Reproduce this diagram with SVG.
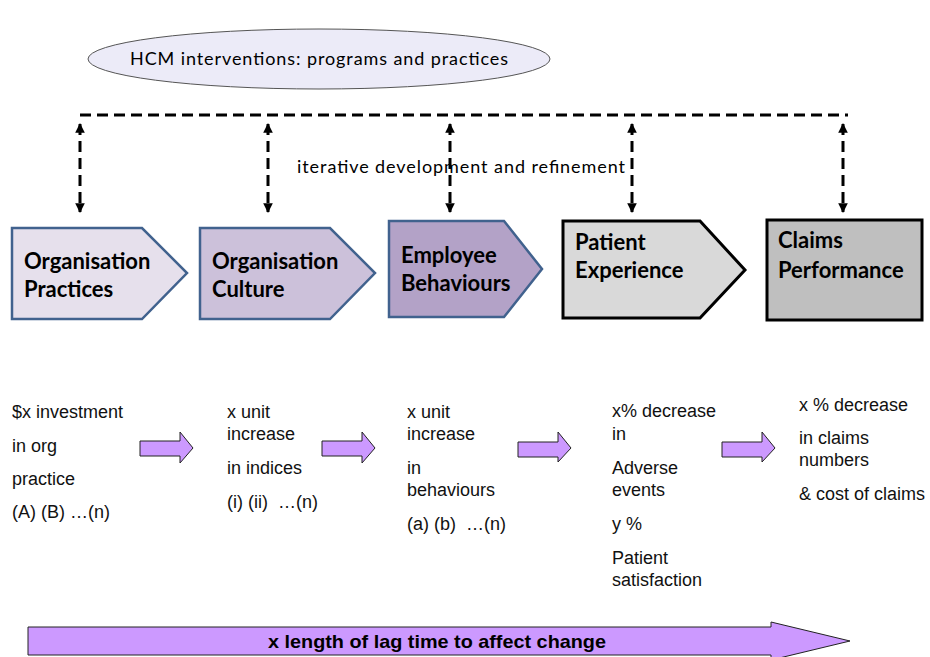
<svg xmlns="http://www.w3.org/2000/svg" width="930" height="657" viewBox="0 0 930 657">
<defs>
<style>
.box1{stroke:#41628e;stroke-width:2.5;stroke-linejoin:miter}
.box2{stroke:#000;stroke-width:3;stroke-linejoin:miter}
.bt{font-family:Lato,"Liberation Sans",sans-serif;font-weight:bold;font-size:22px;fill:#000}
.lt{font-family:"Liberation Sans",Arial,sans-serif;font-size:18px;fill:#111}
.ct{font-family:Lato,"Liberation Sans",sans-serif;font-size:18px;fill:#000}
.dash{stroke:#000;stroke-width:3;fill:none;stroke-dasharray:11 6}
.sa{fill:#cc99ff;stroke:#222;stroke-width:1}
</style>
<marker id="ah" viewBox="0 0 10 10" refX="9" refY="5" markerWidth="3.2" markerHeight="3.2" orient="auto-start-reverse" markerUnits="strokeWidth">
<path d="M0,0 L10,5 L0,10 z" fill="#000"/>
</marker>
</defs>
<rect width="930" height="657" fill="#fff"/>

<g id="hcm">
<ellipse cx="319" cy="59" rx="231" ry="30" fill="#ecebf8" stroke="#555" stroke-width="1"/>
<text class="ct" x="130" y="65" textLength="378">HCM interventions: programs and practices</text>
</g>

<g id="connectors">
<path class="dash" d="M80,115 H848"/>
<path class="dash" d="M80,124 V212" marker-start="url(#ah)" marker-end="url(#ah)"/>
<path class="dash" d="M268,124 V212" marker-start="url(#ah)" marker-end="url(#ah)"/>
<path class="dash" d="M450,124 V212" marker-start="url(#ah)" marker-end="url(#ah)"/>
<path class="dash" d="M632,124 V212" marker-start="url(#ah)" marker-end="url(#ah)"/>
<path class="dash" d="M843,124 V212" marker-start="url(#ah)" marker-end="url(#ah)"/>
</g>

<g id="iter-label">
<text class="ct" x="297" y="173" textLength="328">iterative development and refinement</text>
</g>

<g id="org-practices">
<path class="box1" d="M12,228 H142 L187,273 L142,319 H12 Z" fill="#e6e0ec"/>
<text class="bt" x="24" y="269">Organisation</text>
<text class="bt" x="24" y="297">Practices</text>
</g>

<g id="org-culture">
<path class="box1" d="M200,228 H330 L375,273 L330,319 H200 Z" fill="#ccc1da"/>
<text class="bt" x="212" y="269">Organisation</text>
<text class="bt" x="212" y="297">Culture</text>
</g>

<g id="emp-behaviours">
<path class="box1" d="M389,221 H504 L542,269 L504,317 H389 Z" fill="#b3a2c7"/>
<text class="bt" x="401" y="263">Employee</text>
<text class="bt" x="401" y="291">Behaviours</text>
</g>

<g id="patient-exp">
<path class="box2" d="M563,221 H700 L745,270 L700,318 H563 Z" fill="#d9d9d9"/>
<text class="bt" x="575" y="250">Patient</text>
<text class="bt" x="575" y="278">Experience</text>
</g>

<g id="claims-perf">
<rect class="box2" x="767" y="220" width="155" height="100" fill="#bfbfbf"/>
<text class="bt" x="778" y="248">Claims</text>
<text class="bt" x="778" y="278">Performance</text>
</g>

<g id="col1">
<text class="lt" x="12" y="418">$x investment</text>
<text class="lt" x="12" y="452">in org</text>
<text class="lt" x="12" y="485">practice</text>
<text class="lt" x="12" y="518">(A) (B) …(n)</text>
</g>

<g id="col2">
<text class="lt" x="227" y="418">x unit</text>
<text class="lt" x="227" y="440">increase</text>
<text class="lt" x="227" y="474">in indices</text>
<text class="lt" x="227" y="508" xml:space="preserve">(i) (ii)  …(n)</text>
</g>

<g id="col3">
<text class="lt" x="407" y="418">x unit</text>
<text class="lt" x="407" y="440">increase</text>
<text class="lt" x="407" y="474">in</text>
<text class="lt" x="407" y="496">behaviours</text>
<text class="lt" x="407" y="530" xml:space="preserve">(a) (b)  …(n)</text>
</g>

<g id="col4">
<text class="lt" x="612" y="417">x% decrease</text>
<text class="lt" x="612" y="440">in</text>
<text class="lt" x="612" y="474">Adverse</text>
<text class="lt" x="612" y="496">events</text>
<text class="lt" x="612" y="530">y %</text>
<text class="lt" x="612" y="564">Patient</text>
<text class="lt" x="612" y="586">satisfaction</text>
</g>

<g id="col5">
<text class="lt" x="799" y="411">x % decrease</text>
<text class="lt" x="799" y="444">in claims</text>
<text class="lt" x="799" y="466">numbers</text>
<text class="lt" x="799" y="500">&amp; cost of claims</text>
</g>

<g id="small-arrows">
<path class="sa" d="M140,441 H180 V432 L193,448 L180,463 V456 H140 Z"/>
<path class="sa" d="M322,441 H362 V432 L375,448 L362,463 V456 H322 Z"/>
<path class="sa" d="M518,442 H558 V432 L571,448 L558,462 V457 H518 Z"/>
<path class="sa" d="M722,442 H762 V432 L775,448 L762,462 V457 H722 Z"/>
</g>

<g id="lag-arrow">
<path class="sa" d="M28,627 H771 V622 L850,641 L771,660 V655 H28 Z"/>
<text x="437" y="648" text-anchor="middle" font-family="'Liberation Sans',Arial,sans-serif" font-weight="bold" font-size="19" textLength="338" lengthAdjust="spacingAndGlyphs" fill="#000">x length of lag time to affect change</text>
</g>
</svg>
